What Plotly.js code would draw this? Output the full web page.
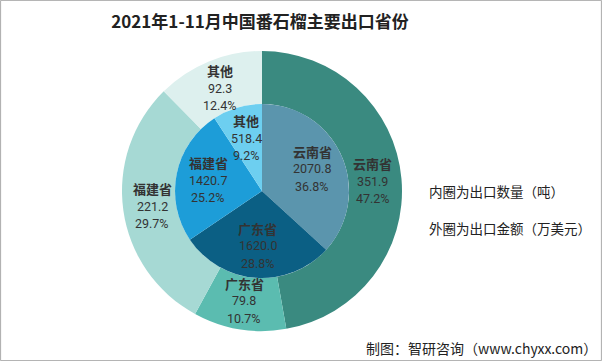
<!DOCTYPE html>
<html>
<head>
<meta charset="utf-8">
<script src="https://cdn.plot.ly/plotly-3.0.1.min.js"></script>
<style>html,body{margin:0;padding:0;background:#fff;}#chart{width:602px;height:361px;}</style>
</head>
<body>
<div id="chart"></div>
<script>
// Data
const provinces = ['云南省', '广东省', '福建省', '其他'];
const innerQuantity = [2070.8, 1620.0, 1420.7, 518.4];   // 出口数量（吨）
const outerAmount = [351.9, 79.8, 221.2, 92.3];          // 出口金额（万美元）

const titleText = '2021年1-11月中国番石榴主要出口省份';
const innerNote = '内圈为出口数量（吨）';
const outerNote = '外圈为出口金额（万美元）';
const sourceText = '制图：智研咨询（www.chyxx.com）';

const outerColors = ['#3a8a80', '#5bbcb0', '#a6d9d4', '#ddf0ee'];
const innerColors = ['#5b95ad', '#0b5f84', '#1d9dd8', '#6dcff0'];

const W = 602, H = 361;
const cx = 262, cy = 191, rOut = 140, rIn = 87;
const font = 'Noto Sans CJK SC, sans-serif';
const numFont = 'Roboto, Noto Sans CJK SC, sans-serif';
const lineGap = 17.5;

function dom(r) {
  return {
    x: [(cx - r) / W, (cx + r) / W],
    y: [1 - (cy + r) / H, 1 - (cy - r) / H]
  };
}

// Label annotations placed at each slice's mid-angle (computed from the data), one per line
function sliceLabels(values, radius) {
  const total = values.reduce((a, b) => a + b, 0);
  let cum = 0;
  const out = [];
  values.forEach((v, i) => {
    const mid = (cum + v / 2) / total * 2 * Math.PI;
    cum += v;
    const px = cx + radius * Math.sin(mid);
    const py = cy - radius * Math.cos(mid);
    const pct = (v / total * 100).toFixed(1) + '%';
    const lines = [
      {t: '<b>' + provinces[i] + '</b>', f: font, s: 13},
      {t: v.toFixed(1), f: numFont, s: 12.5},
      {t: pct, f: numFont, s: 12.5}
    ];
    lines.forEach((ln, k) => {
      const ly = py + (k - 1) * lineGap;
      out.push({
        text: ln.t, xref: 'paper', yref: 'paper', x: px / W, y: 1 - ly / H,
        xanchor: 'center', yanchor: 'middle', showarrow: false, borderpad: 0,
        font: {family: ln.f, size: ln.s, color: '#333'}
      });
    });
  });
  return out;
}

const traces = [
  {
    type: 'pie', labels: provinces, values: outerAmount, sort: false,
    direction: 'clockwise', rotation: 0, hole: rIn / rOut,
    domain: dom(rOut),
    marker: {colors: outerColors, line: {width: 0}},
    textinfo: 'none', hoverinfo: 'label+value+percent', showlegend: false
  },
  {
    type: 'pie', labels: provinces, values: innerQuantity, sort: false,
    direction: 'clockwise', rotation: 0,
    domain: dom(rIn),
    marker: {colors: innerColors, line: {width: 0}},
    textinfo: 'none', hoverinfo: 'label+value+percent', showlegend: false
  }
];

const annotations = [].concat(
  sliceLabels(outerAmount, 111),
  sliceLabels(innerQuantity, 55),
  [
    {text: innerNote, xref: 'paper', yref: 'paper', x: 427 / W, y: 1 - 191 / H, xanchor: 'left', yanchor: 'middle',
     showarrow: false, font: {family: font, size: 13.5, color: '#222'}},
    {text: outerNote, xref: 'paper', yref: 'paper', x: 427 / W, y: 1 - 228 / H, xanchor: 'left', yanchor: 'middle',
     showarrow: false, font: {family: font, size: 13.5, color: '#222'}},
    {text: sourceText, xref: 'paper', yref: 'paper', x: 599 / W, y: 1 - 348 / H, xanchor: 'right', yanchor: 'middle',
     showarrow: false, font: {family: font, size: 14, color: '#222'}}
  ]
);

const layout = {
  width: W, height: H,
  margin: {l: 0, r: 0, t: 0, b: 0},
  paper_bgcolor: '#fff',
  title: {text: '<b>' + titleText + '</b>', x: 260 / W, xanchor: 'center', y: 1 - 22 / H, yanchor: 'middle',
          font: {family: font, size: 17, color: '#222'}},
  annotations: annotations,
  shapes: [
    {type: 'rect', xref: 'paper', yref: 'paper', x0: 0.001, x1: 0.999, y0: 0.001, y1: 0.999,
     line: {color: '#aaaaaa', width: 1}, fillcolor: 'rgba(0,0,0,0)'}
  ]
};

Plotly.newPlot('chart', traces, layout, {displayModeBar: false, staticPlot: true});
</script>
</body>
</html>
